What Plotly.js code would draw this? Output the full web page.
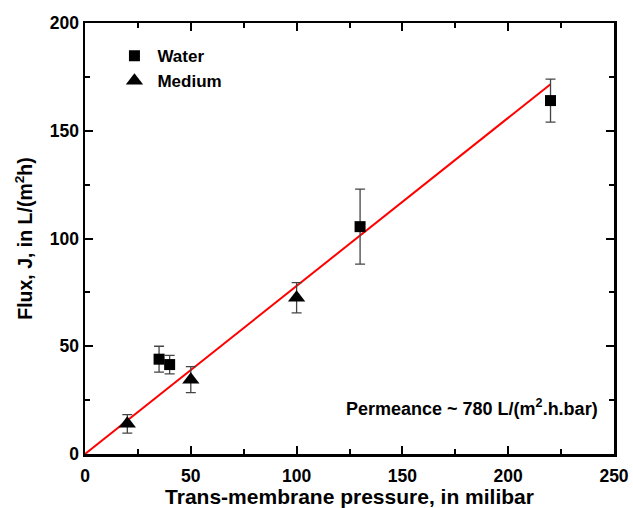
<!DOCTYPE html>
<html>
<head>
<meta charset="utf-8">
<script src="https://cdn.plot.ly/plotly-3.0.1.min.js"></script>
<style>html,body{margin:0;padding:0;background:#fff;}#chart{width:633px;height:508px;}</style>
</head>
<body>
<div id="chart"></div>
<script>
// Data
const waterX = [35, 40, 130, 220];
const waterY = [44, 41.5, 105.5, 164];
const waterErr = [6, 4.3, 17.4, 10];
const mediumX = [20, 50, 100];
const mediumY = [14, 34.5, 72.5];
const mediumErr = [4.3, 6, 7];
const fitX = [0, 220];
const permeance = 0.78; // L/(m2.h.mbar)
const fitY = fitX.map(x => x * permeance);

const F = 'Liberation Sans, Arial, sans-serif';
const errStyle = {type: 'data', visible: true, color: '#444', thickness: 1.3, width: 5};

const traces = [
  {x: fitX, y: fitY, mode: 'lines', line: {color: '#ff0000', width: 2}, showlegend: false, hoverinfo: 'skip'},
  {x: waterX, y: waterY, name: 'Water', mode: 'markers',
   marker: {symbol: 'square', size: 11, color: '#000'},
   error_y: Object.assign({array: waterErr}, errStyle)},
  {x: mediumX, y: mediumY, name: 'Medium', mode: 'markers',
   marker: {symbol: 'triangle-up', size: 15, color: '#000'},
   error_y: Object.assign({array: mediumErr}, errStyle)}
];

const axisCommon = {
  showline: true, linecolor: '#000', linewidth: 2.5, mirror: 'allticks',
  ticks: 'inside', ticklen: 8, tickwidth: 2, tickcolor: '#000',
  showgrid: false, zeroline: false,
  tickfont: {family: F, size: 17.5, color: '#000', weight: 'bold'}
};

const layout = {
  width: 633, height: 508,
  margin: {l: 85, r: 19, t: 23, b: 54},
  paper_bgcolor: '#fff', plot_bgcolor: '#fff',
  font: {family: F, color: '#000'},
  xaxis: Object.assign({}, axisCommon, {
    range: [0, 250], tickvals: [0, 50, 100, 150, 200, 250],
    ticklabelstandoff: 4,
    minor: {tickvals: [25, 75, 125, 175, 225], ticklen: 5, tickwidth: 2, tickcolor: '#000', ticks: 'inside'},
    title: {text: 'Trans-membrane pressure, in milibar', font: {family: F, size: 21, weight: 'bold', color: '#000'}, standoff: 5}
  }),
  yaxis: Object.assign({}, axisCommon, {
    range: [0, 200], tickvals: [0, 50, 100, 150, 200],
    minor: {tickvals: [25, 75, 125, 175], ticklen: 5, tickwidth: 2, tickcolor: '#000', ticks: 'inside'},
    title: {text: 'Flux, J, in L/(m<sup>2</sup>h)', font: {family: F, size: 19.5, weight: 'bold', color: '#000'}, standoff: 12}
  }),
  showlegend: true,
  legend: {x: 0.05, y: 0.965, xanchor: 'left', yanchor: 'top', bgcolor: 'rgba(0,0,0,0)',
    font: {family: F, size: 17, weight: 'bold', color: '#000'}, tracegroupgap: 0, itemwidth: 36},
  annotations: [{
    xref: 'paper', yref: 'paper', x: 0.9735, y: 0.107, xanchor: 'right', yanchor: 'middle',
    text: 'Permeance ~ 780 L/(m<sup>2</sup>.h.bar)', showarrow: false,
    font: {family: F, size: 18, weight: 'bold', color: '#000'}
  }]
};

Plotly.newPlot('chart', traces, layout, {displayModeBar: false, staticPlot: true});
</script>
</body>
</html>
